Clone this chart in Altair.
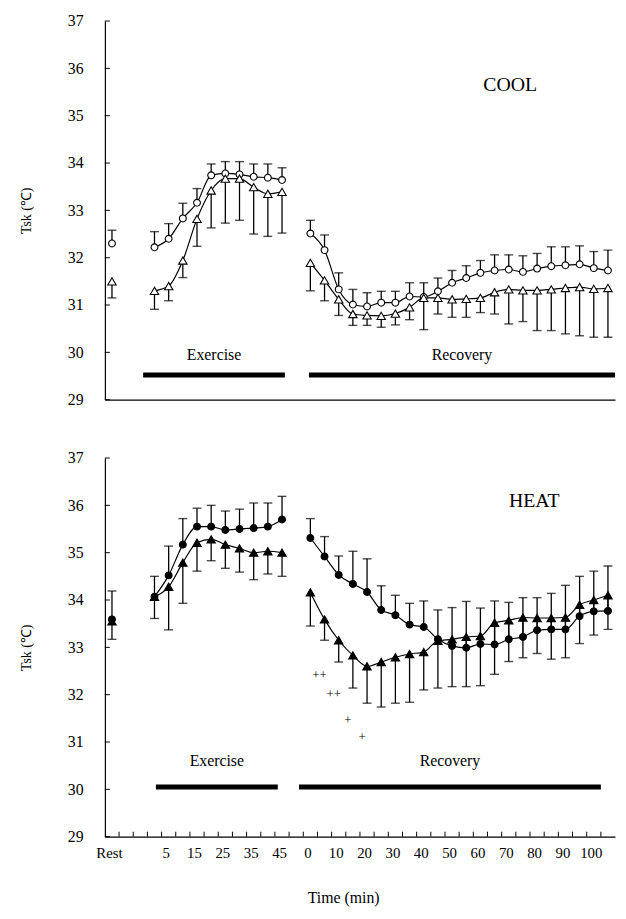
import altair as alt
import pandas as pd

# ---------------- data ----------------
EX_TIMES = list(range(0, 50, 5))      # exercise sampling times (10)
REC_TIMES = list(range(0, 110, 5))    # recovery sampling times (22)

# COOL  (open symbols): circle series has upper SD bars, triangle series lower SD bars
COOL_REST_CIRCLE = [32.30, 32.58]     # mean, upper bound
COOL_REST_TRI = [31.50, 31.15]        # mean, lower bound
COOL_EX_CIRCLE = [32.22, 32.40, 32.83, 33.16, 33.74, 33.78, 33.76, 33.71, 33.69, 33.64]
COOL_EX_CIRCLE_UP = [32.55, 32.72, 33.15, 33.46, 33.98, 34.03, 34.03, 33.98, 33.98, 33.90]
COOL_EX_TRI = [31.30, 31.40, 31.94, 32.82, 33.42, 33.67, 33.67, 33.49, 33.35, 33.39]
COOL_EX_TRI_LO = [30.91, 31.09, 31.58, 32.24, 32.63, 32.73, 32.79, 32.50, 32.45, 32.52]
COOL_REC_CIRCLE = [32.51, 32.16, 31.33, 31.01, 30.97, 31.05, 31.05, 31.18, 31.17, 31.29, 31.47,
                   31.57, 31.68, 31.73, 31.75, 31.70, 31.77, 31.82, 31.84, 31.86, 31.78, 31.73]
COOL_REC_CIRCLE_UP = [32.79, 32.48, 31.68, 31.33, 31.26, 31.29, 31.29, 31.47, 31.47, 31.57, 31.73,
                      31.83, 31.94, 32.06, 32.06, 32.04, 32.09, 32.23, 32.23, 32.25, 32.13, 32.16]
COOL_REC_TRI = [31.89, 31.52, 31.12, 30.81, 30.78, 30.77, 30.82, 30.95, 31.15, 31.15, 31.12,
                31.13, 31.15, 31.27, 31.33, 31.31, 31.31, 31.33, 31.36, 31.38, 31.34, 31.36]
COOL_REC_TRI_LO = [31.30, 31.09, 30.78, 30.57, 30.57, 30.53, 30.58, 30.69, 30.48, 30.81, 30.74,
                   30.74, 30.84, 30.81, 30.60, 30.65, 30.46, 30.46, 30.39, 30.35, 30.32, 30.32]

# HEAT (filled symbols)
HEAT_REST_CIRCLE = [33.59, 34.19]
HEAT_REST_TRI = [33.55, 33.17]
HEAT_EX_CIRCLE = [34.07, 34.52, 35.17, 35.55, 35.55, 35.48, 35.50, 35.52, 35.55, 35.70]
HEAT_EX_CIRCLE_UP = [34.50, 35.14, 35.72, 35.94, 36.00, 35.88, 35.92, 36.05, 36.05, 36.19]
HEAT_EX_TRI = [34.07, 34.28, 34.79, 35.21, 35.28, 35.17, 35.09, 35.00, 35.03, 35.00]
HEAT_EX_TRI_LO = [33.61, 33.37, 33.93, 34.61, 34.83, 34.67, 34.59, 34.43, 34.55, 34.50]
HEAT_REC_CIRCLE = [35.31, 34.92, 34.53, 34.34, 34.17, 33.79, 33.68, 33.48, 33.43, 33.17, 33.03,
                   32.99, 33.07, 33.06, 33.17, 33.22, 33.36, 33.38, 33.38, 33.66, 33.76, 33.77]
HEAT_REC_CIRCLE_UP = [35.72, 35.34, 34.93, 35.03, 34.87, 34.30, 34.10, 33.93, 33.98, 33.79, 33.84,
                      33.97, 33.83, 33.98, 33.95, 34.05, 34.05, 34.14, 34.31, 34.50, 34.61, 34.72]
HEAT_REC_TRI = [34.16, 33.59, 33.15, 32.83, 32.60, 32.69, 32.79, 32.86, 32.90, 33.14, 33.17,
                33.22, 33.24, 33.52, 33.57, 33.63, 33.62, 33.62, 33.63, 33.90, 34.00, 34.10]
HEAT_REC_TRI_LO = [33.45, 33.15, 32.69, 32.14, 31.82, 31.74, 31.82, 31.84, 32.10, 32.14, 32.17,
                   32.17, 32.19, 32.43, 32.70, 32.78, 32.87, 32.75, 32.78, 33.08, 33.26, 33.38]

# significance marks under the HEAT triangles (recovery minutes)
SIG_TIMES = [5, 10, 15, 20]
SIG_TEXT = ["++", "++", "+", "+"]
SIG_Y = [32.41, 32.01, 31.47, 31.11]

# axis tick labels
X_LABELS = ["Rest", "5", "15", "25", "35", "45", "0", "10", "20", "30", "40",
            "50", "60", "70", "80", "90", "100"]
Y_TICKS = [29, 30, 31, 32, 33, 34, 35, 36, 37]

# ---------------- layout of the categorical time axis ----------------
N_SLOTS = 36
EX_OFFSET = 3     # first exercise slot
REC_OFFSET = 14   # first recovery slot


def ex_slot(t):
    return EX_OFFSET + t // 5


def rec_slot(t):
    return REC_OFFSET + t // 5


LABEL_SLOTS = [0] + [ex_slot(t) for t in (5, 15, 25, 35, 45)] + [rec_slot(t) for t in range(0, 110, 10)]
label_arr = [""] * N_SLOTS
for s, lab in zip(LABEL_SLOTS, X_LABELS):
    label_arr[s] = lab
LABEL_EXPR = "[" + ",".join("'" + l + "'" for l in label_arr) + "][datum.value]"
X_TICK_SLOTS = [i + 0.5 for i in range(N_SLOTS - 1)]


def build(rest_c, rest_t, exc, excu, ext, extl, recc, recu, rect, recl):
    rows = []
    rows.append(dict(series="circle", phase="rest", slot=0, mean=rest_c[0], bound=rest_c[1]))
    rows.append(dict(series="tri", phase="rest", slot=0, mean=rest_t[0], bound=rest_t[1]))
    for t, m, b in zip(EX_TIMES, exc, excu):
        rows.append(dict(series="circle", phase="ex", slot=ex_slot(t), mean=m, bound=b))
    for t, m, b in zip(EX_TIMES, ext, extl):
        rows.append(dict(series="tri", phase="ex", slot=ex_slot(t), mean=m, bound=b))
    for t, m, b in zip(REC_TIMES, recc, recu):
        rows.append(dict(series="circle", phase="rec", slot=rec_slot(t), mean=m, bound=b))
    for t, m, b in zip(REC_TIMES, rect, recl):
        rows.append(dict(series="tri", phase="rec", slot=rec_slot(t), mean=m, bound=b))
    df = pd.DataFrame(rows)
    df["key"] = df["series"] + "_" + df["phase"]
    return df


cool_df = build(COOL_REST_CIRCLE, COOL_REST_TRI, COOL_EX_CIRCLE, COOL_EX_CIRCLE_UP, COOL_EX_TRI,
                COOL_EX_TRI_LO, COOL_REC_CIRCLE, COOL_REC_CIRCLE_UP, COOL_REC_TRI, COOL_REC_TRI_LO)
heat_df = build(HEAT_REST_CIRCLE, HEAT_REST_TRI, HEAT_EX_CIRCLE, HEAT_EX_CIRCLE_UP, HEAT_EX_TRI,
                HEAT_EX_TRI_LO, HEAT_REC_CIRCLE, HEAT_REC_CIRCLE_UP, HEAT_REC_TRI, HEAT_REC_TRI_LO)

# phase bars and labels (slot units, degC)
COOL_BARS = pd.DataFrame({"x0": [2.2, 13.9], "x1": [12.2, 35.5], "y": [29.52, 29.52],
                          "label": ["Exercise", "Recovery"], "ty": [29.95, 29.95]})
HEAT_BARS = pd.DataFrame({"x0": [3.1, 13.2], "x1": [11.7, 34.5], "y": [30.05, 30.05],
                          "label": ["Exercise", "Recovery"], "ty": [30.60, 30.60]})
COOL_TAG = pd.DataFrame({"x": [28.1], "y": [35.65], "label": ["COOL"]})
HEAT_TAG = pd.DataFrame({"x": [29.8], "y": [36.1], "label": ["HEAT"]})
SIG_DF = pd.DataFrame({"slot": [rec_slot(t) for t in SIG_TIMES], "y": SIG_Y, "label": SIG_TEXT})

FONT = "Liberation Serif"
W, H = 516, 383
XS = alt.Scale(domain=[-0.5, N_SLOTS - 0.5], nice=False, zero=False)
YS = alt.Scale(domain=[29, 37], nice=False, zero=False)

Y_AXIS = alt.Axis(values=Y_TICKS, ticks=False, grid=False, labelFont=FONT, labelFontSize=16,
                  labelPadding=22, labelFlush=False, labelColor="black",
                  title="Tsk (℃)", titleFont=FONT, titleFontSize=14, titleFontWeight="normal",
                  titlePadding=34, titleColor="black", domainColor="black", domainWidth=1.2)
X_AXIS_TOP = alt.Axis(labels=False, ticks=False, grid=False, title="", domainColor="black",
                      domainWidth=1.2)
X_AXIS_BOTTOM = alt.Axis(values=LABEL_SLOTS, labelExpr=LABEL_EXPR, ticks=False, grid=False,
                         labelFont=FONT, labelFontSize=15, labelPadding=9, labelFlush=False,
                         labelOverlap=False, labelColor="black", labelOffset=-3,
                         title="Time (min)", titleFont=FONT, titleFontSize=16,
                         titleFontWeight="normal", titlePadding=30, titleColor="black",
                         titleX=241, domainColor="black", domainWidth=1.2)


def panel(df, bars, tag, filled, bottom):
    xa = X_AXIS_BOTTOM if bottom else X_AXIS_TOP

    def X(f):
        return alt.X(f, type="quantitative", scale=XS, axis=xa)

    def Y(f):
        return alt.Y(f, type="quantitative", scale=YS, axis=Y_AXIS)

    fill = "black" if filled else "white"
    base = alt.Chart(df)
    stems = base.mark_rule(color="black", strokeWidth=1.3).encode(x=X("slot"), y=Y("mean"), y2="bound")
    caps = base.mark_tick(orient="horizontal", color="black", size=9, thickness=1.4).encode(
        x=X("slot"), y=Y("bound"))
    lines = base.transform_filter("datum.phase != 'rest'").mark_line(
        interpolate="monotone", color="black", strokeWidth=1.2).encode(
        x=X("slot"), y=Y("mean"), detail="key:N")
    circ = base.transform_filter("datum.series == 'circle'").mark_point(
        shape="circle", size=48, filled=True, fill=fill, stroke="black", strokeWidth=1.1,
        opacity=1).encode(x=X("slot"), y=Y("mean"))
    tri = base.transform_filter("datum.series == 'tri'").mark_point(
        shape="triangle-up", size=72, filled=True, fill=fill, stroke="black", strokeWidth=1.1,
        opacity=1).encode(x=X("slot"), y=Y("mean"))
    yt = alt.Chart(pd.DataFrame({"v": Y_TICKS})).mark_rule(color="black", strokeWidth=1).encode(
        y=Y("v"), x=alt.value(0), x2=alt.value(5))
    bar = alt.Chart(bars).mark_rule(color="black", strokeWidth=5, strokeCap="butt").encode(
        x=X("x0"), x2="x1", y=Y("y"))
    btxt = alt.Chart(bars).transform_calculate(xm="(datum.x0 + datum.x1) / 2").mark_text(
        font=FONT, fontSize=16, color="black", fill="black").encode(
        x=X("xm"), y=Y("ty"), text="label:N")
    ttxt = alt.Chart(tag).mark_text(font=FONT, fontSize=20, color="black", fill="black").encode(
        x=X("x"), y=Y("y"), text="label:N")
    layers = [yt, stems, caps, lines, circ, tri, bar, btxt, ttxt]
    if bottom:
        xt = alt.Chart(pd.DataFrame({"s": X_TICK_SLOTS})).mark_rule(color="black", strokeWidth=1).encode(
            x=X("s"), y=alt.value(H), y2=alt.value(H - 5))
        sig = alt.Chart(SIG_DF).mark_text(font=FONT, fontSize=13, color="black", fill="black",
                                          dx=-5).encode(x=X("slot"), y=Y("y"), text="label:N")
        layers += [xt, sig]
    return alt.layer(*layers).properties(width=W, height=H)


top = panel(cool_df, COOL_BARS, COOL_TAG, False, False)
bottom = panel(heat_df, HEAT_BARS, HEAT_TAG, True, True)

chart = alt.vconcat(top, bottom, spacing=59, bounds="flush").properties(
    padding={"left": 12, "top": 0, "right": 0, "bottom": 0}
).configure_view(stroke=None).configure_axis(titleFontWeight="normal")

chart.save("out.html", embed_options={"renderer": "svg", "actions": False})
